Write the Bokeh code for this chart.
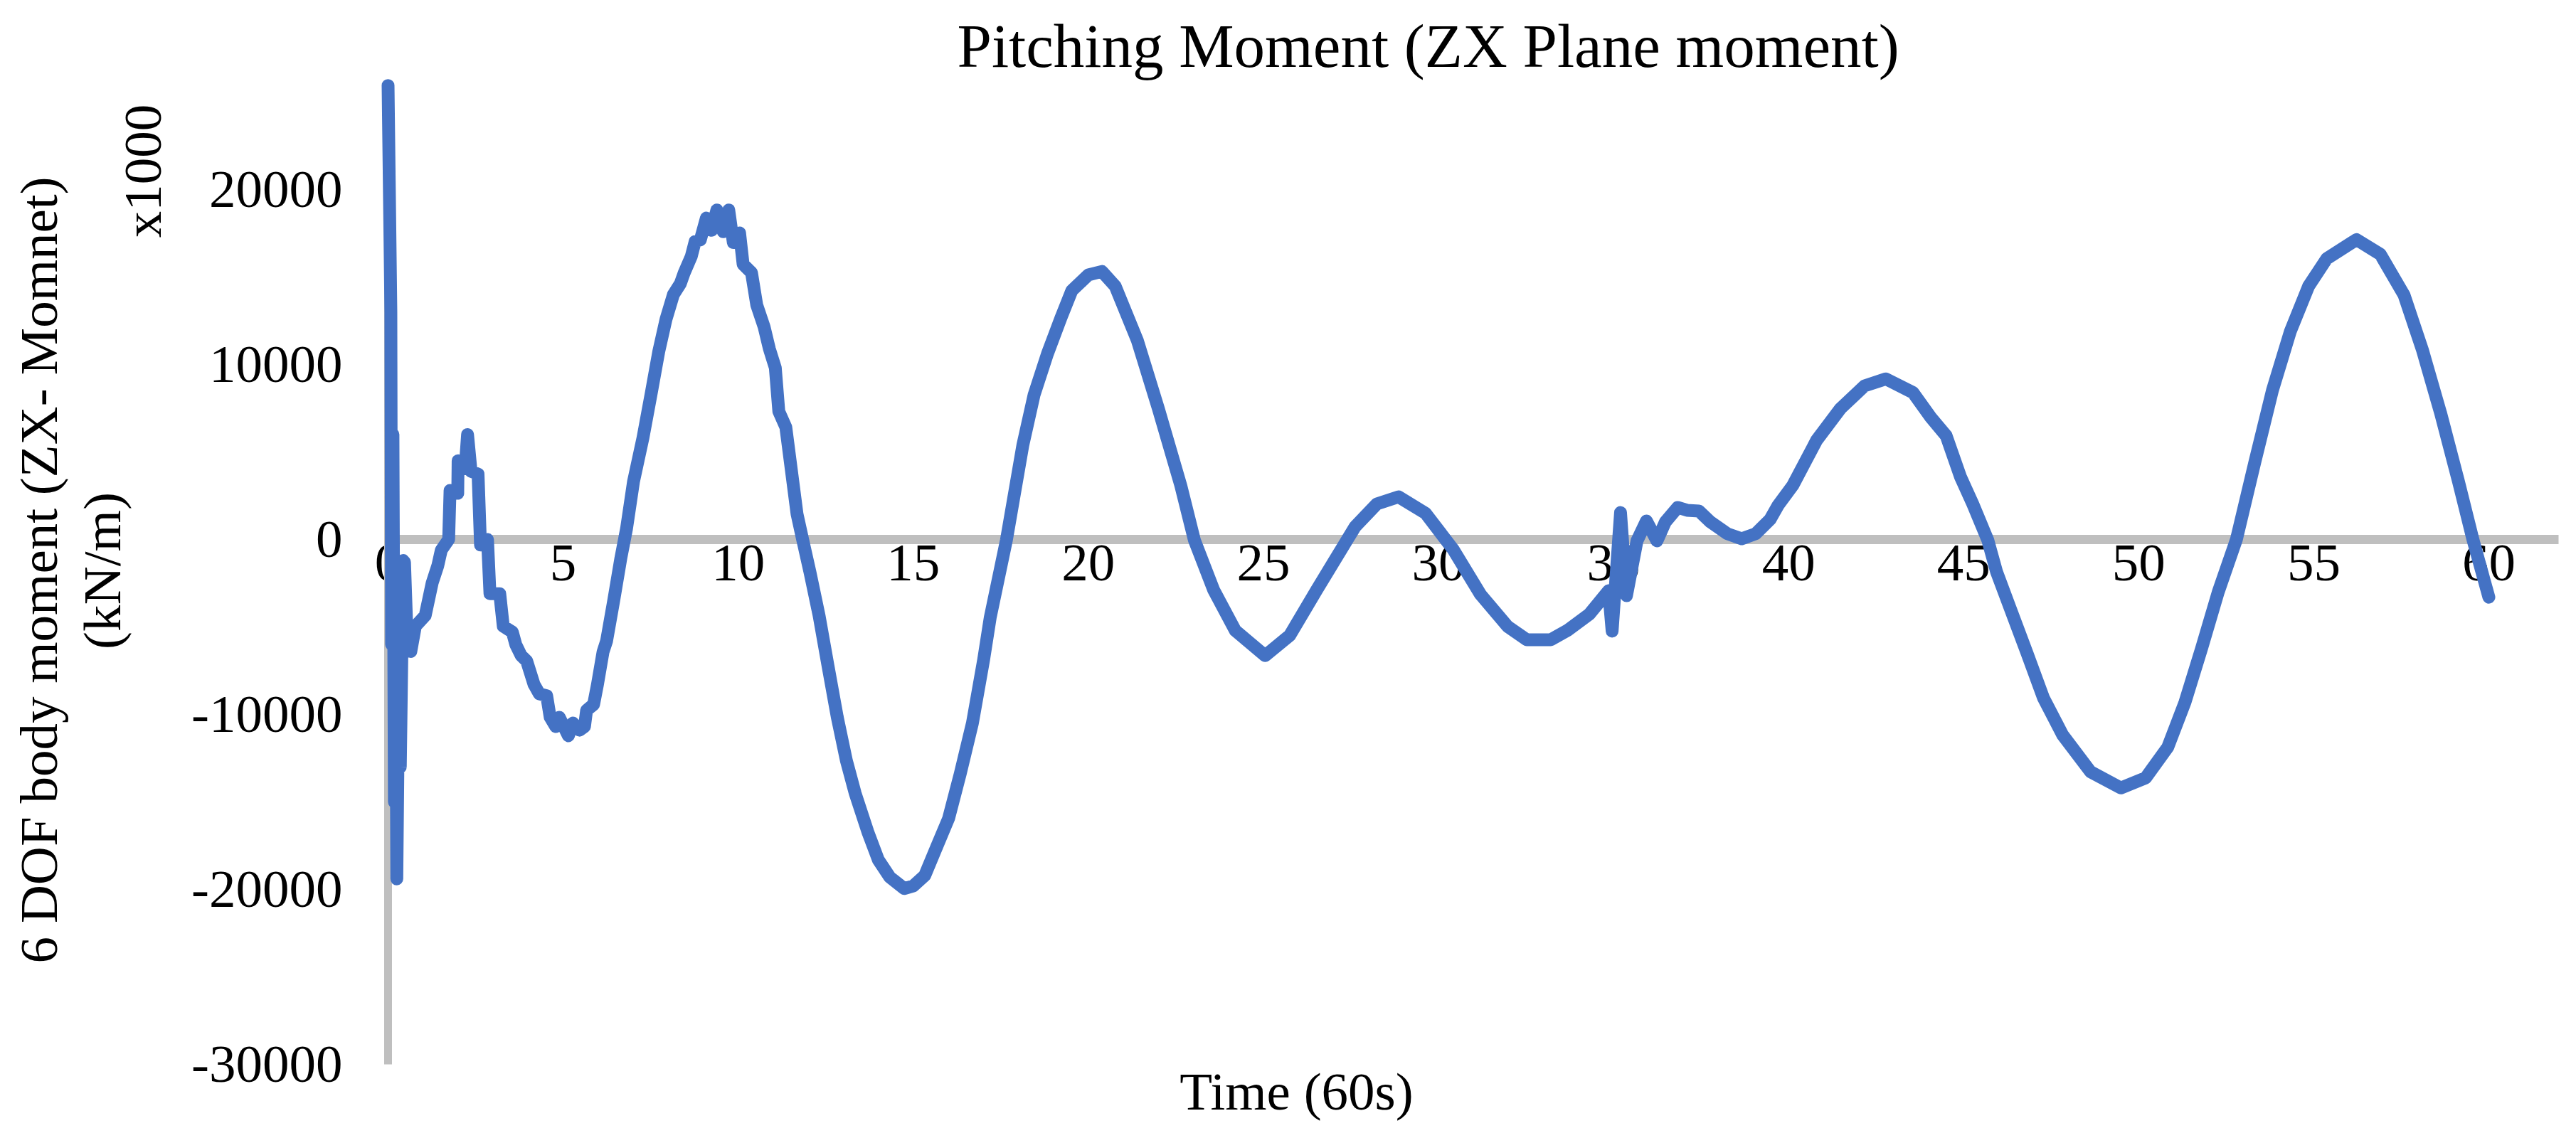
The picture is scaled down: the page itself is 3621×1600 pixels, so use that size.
import math
from bokeh.plotting import figure
from bokeh.models import Range1d, FixedTicker, Label, ColumnDataSource, PrintfTickFormatter
from bokeh.embed import file_html
from bokeh.resources import INLINE

# ---- data ----
time_s = [0.0, 0.08, 0.1, 0.14, 0.18, 0.21, 0.25, 0.3, 0.35, 0.43, 0.47, 0.55, 0.65, 0.78,
          1.06, 1.26, 1.42, 1.52, 1.73, 1.77, 1.99, 2.0, 2.2, 2.27, 2.37, 2.57, 2.64, 2.84,
          2.91, 3.19, 3.29, 3.55, 3.65, 3.80, 3.96, 4.17, 4.32, 4.53, 4.63, 4.79, 4.89, 5.15,
          5.28, 5.47, 5.61, 5.67, 5.87, 5.98, 6.14, 6.24, 6.44, 6.65, 6.81, 7.01, 7.28, 7.52,
          7.73, 7.94, 8.15, 8.35, 8.46, 8.66, 8.77, 8.92, 9.09, 9.24, 9.39, 9.57, 9.73, 9.86,
          10.04, 10.14, 10.38, 10.53, 10.74, 10.89, 11.06, 11.16, 11.36, 11.52, 11.68, 11.84,
          12.05, 12.31, 12.57, 12.83, 13.09, 13.34, 13.7, 14.0, 14.33, 14.74, 15.0, 15.33,
          15.67, 16.01, 16.34, 16.69, 17.01, 17.2, 17.66, 18.13, 18.45, 18.83, 19.22, 19.53,
          20.0, 20.39, 20.77, 21.4, 22.0, 22.64, 23.03, 23.58, 24.2, 25.05, 25.75, 26.52,
          26.99, 27.62, 28.24, 28.86, 29.63, 30.42, 31.2, 31.97, 32.52, 33.21, 33.68, 34.31,
          34.86, 34.96, 35.2, 35.37, 35.67, 35.94, 36.24, 36.48, 36.83, 37.1, 37.44, 37.77,
          38.25, 38.66, 39.06, 39.47, 39.7, 40.12, 40.8, 41.48, 42.17, 42.78, 43.55, 44.06,
          44.5, 44.91, 45.26, 45.69, 45.94, 46.33, 46.81, 47.28, 47.83, 48.62, 49.49, 50.2,
          50.83, 51.32, 51.79, 52.27, 52.79, 53.31, 53.82, 54.33, 54.85, 55.37, 56.22, 56.9,
          57.58, 58.1, 58.62, 59.13, 59.55, 60.0]
moment = [25950, 13000, -6000, 6000, -15000, -2000, -19400, -9000, -13000, -1200, -1300, -6000, -6400, -4960,
          -4350, -2480, -1500, -610, 0, 2800, 2640, 4500, 4040, 6000, 3900, 3740, -320, 0,
          -3100, -3100, -4960, -5290, -6020, -6630, -6950, -8290, -8820, -8930, -10160, -10690, -10160, -11220,
          -10490, -10900, -10690, -9760, -9430, -8290, -6420, -5810, -3540, -1050, 610, 3310, 5810, 8400,
          10730, 12600, 14000, 14630, 15250, 16180, 17030, 17130, 18370, 17670, 18830, 17590, 18830, 16970,
          17520, 15730, 15250, 13400, 12150, 10900, 9810, 7320, 6420, 3940, 1460, 0,
          -1870, -4350, -7280, -10160, -12640, -14500, -16700, -18300, -19300, -19950, -19800, -19200,
          -17560, -15940, -13400, -10490, -6870, -4440, -40, 5400, 8260, 10600, 12680, 14230,
          15120, 15320, 14470, 11380, 7480, 3090, -40, -2890, -5210, -6640, -5490, -2890,
          -1340, 730, 2030, 2440, 1500, -570, -3140, -4960, -5730, -5730, -5200, -4270,
          -2930, -5240, 1540, -3210, -80, 1060, -80, 1000, 1830, 1670, 1630, 1000,
          330, 40, 330, 1140, 1950, 3090, 5670, 7480, 8780, 9180, 8400, 6980,
          5930, 3580, 2030, -40, -1850, -3940, -6500, -9060, -11180, -13270, -14200, -13620,
          -11870, -9310, -6260, -3010, 0, 4370, 8530, 11890, 14470, 16050, 17140, 16300,
          13960, 10850, 7240, 3330, -40, -3300]

x_ticks = [0, 5, 10, 15, 20, 25, 30, 35, 40, 45, 50, 55, 60]
y_ticks = [-30000, -20000, -10000, 0, 10000, 20000]
x_bounds = (0, 62)
y_bounds = (-30000, 25950)

title_text = "Pitching Moment (ZX Plane moment)"
x_title = "Time (60s)"
y_title_1 = "6 DOF body moment (ZX- Momnet)"
y_title_2 = "(kN/m)"
y_scale_note = "x1000"

FONT = "Liberation Serif"
GRAY = "#BFBFBF"
BLUE = "#4472C4"

W, H = 3621, 1600
# pixel layout of the chart area (axes drawn inside a full-canvas frame)
X0_PX, PX_PER_S = 545.0, 49.217
Y0_PX, PX_PER_UNIT = 758.0, 0.0246

src = ColumnDataSource(data=dict(t=time_s, m=moment))

p = figure(width=W, height=H, output_backend="svg", toolbar_location=None,
           x_range=Range1d(-X0_PX / PX_PER_S, (W - X0_PX) / PX_PER_S),
           y_range=Range1d(-(H - Y0_PX) / PX_PER_UNIT, Y0_PX / PX_PER_UNIT),
           min_border=0)
p.title.visible = False
p.grid.visible = False
p.outline_line_color = None
p.background_fill_color = "white"
p.border_fill_color = "white"

p.line('t', 'm', source=src, line_color=BLUE, line_width=18,
       line_join="round", line_cap="round")

xa = p.xaxis[0]
xa.fixed_location = 0
xa.bounds = x_bounds
xa.ticker = FixedTicker(ticks=x_ticks)
xa.axis_line_color = GRAY
xa.axis_line_width = 13
xa.major_tick_line_color = None
xa.minor_tick_line_color = None
xa.major_tick_out = 0
xa.major_tick_in = 0
xa.major_label_text_font = FONT
xa.major_label_text_font_size = "75px"
xa.major_label_text_color = "black"
xa.major_label_standoff = 8
xa.level = "underlay"

ya = p.yaxis[0]
ya.fixed_location = 0
ya.bounds = y_bounds
ya.ticker = FixedTicker(ticks=y_ticks)
ya.formatter = PrintfTickFormatter(format="%d")
ya.axis_line_color = GRAY
ya.axis_line_width = 11
ya.major_tick_line_color = None
ya.minor_tick_line_color = None
ya.major_tick_out = 0
ya.major_tick_in = 0
ya.major_label_text_font = FONT
ya.major_label_text_font_size = "75px"
ya.major_label_text_color = "black"
ya.major_label_standoff = 64
ya.level = "underlay"

SHIFT = 30  # correction between requested and drawn text baseline

def add_label(text, x, y, size, align="center", angle=0.0):
    p.add_layout(Label(x=x, y=y, x_units="screen", y_units="screen", text=text,
                       text_font=FONT, text_font_size=size, text_color="black",
                       text_align=align, text_baseline="alphabetic", angle=angle))

add_label(title_text, 1345, H - 94 + SHIFT, "87px", align="left")
add_label(x_title, 1822, H - 1564 + SHIFT, "75px")
add_label(y_title_1, 84 - SHIFT, H - 801, "75px", angle=math.pi / 2)
add_label(y_title_2, 173 - SHIFT, H - 802, "75px", angle=math.pi / 2)
add_label(y_scale_note, 230 - SHIFT, H - 240, "75px", angle=math.pi / 2)

open("out.html", "w").write(file_html(p, INLINE))
